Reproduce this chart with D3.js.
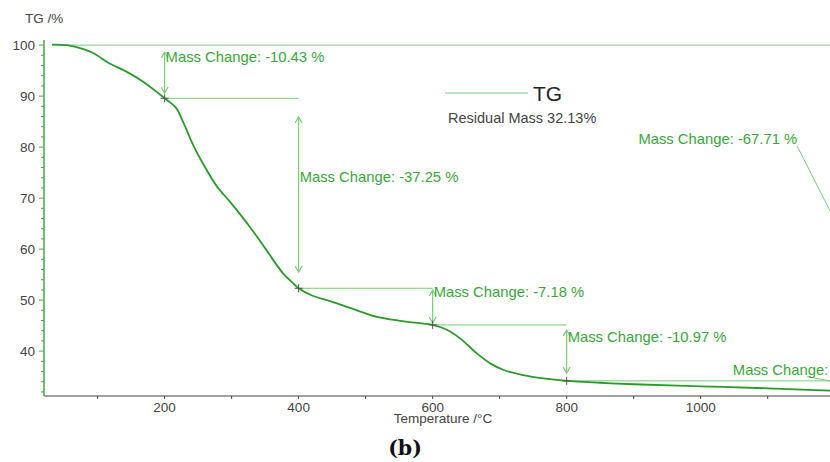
<!DOCTYPE html>
<html>
<head>
<meta charset="utf-8">
<script src="https://cdn.jsdelivr.net/npm/d3@7"></script>
<style>
  body { margin: 0; background: #fff; }
  svg { display: block; }
</style>
</head>
<body>
<svg id="drawing_region"></svg>
<script>
// TG curve (temperature in °C, mass in %)
const tempC = [32, 54, 79, 94, 118, 143, 168, 200, 217, 228, 243, 258, 278, 298, 327, 352,
               377, 392, 400, 420, 447, 487, 517, 551, 586, 600, 621, 641, 666, 686, 706,
               735, 765, 800, 850, 900, 1000, 1100, 1200];
const massPct = [100.1, 100.0, 99.2, 98.4, 96.4, 94.8, 92.8, 89.57, 87.7, 84.8, 80.3, 76.6,
                 72.3, 69.2, 64.4, 59.8, 55.2, 53.3, 52.32, 50.9, 49.8, 48.0, 46.7, 45.95,
                 45.4, 45.14, 44.2, 42.5, 39.55, 37.6, 36.3, 35.3, 34.65, 34.17, 33.8, 33.5,
                 33.1, 32.7, 32.2];

// mass loss steps
const stepTemp = [200, 400, 600, 800];
const stepTo = [89.57, 52.32, 45.14, 34.17];
const stepLabel = ["Mass Change: -10.43 %", "Mass Change: -37.25 %", "Mass Change: -7.18 %", "Mass Change: -10.97 %"];
const arrowTop = [98.6, 85.9, 51.96, 44.1];
const arrowBottom = [90.6, 55.5, 45.5, 35.7];
const labelMass = [96.67, 73.1, 50.6, 41.8];
const levelEnd = [400, 600, 800, 1230];

const xTicks = [200, 400, 600, 800, 1000];
const yTicks = [40, 50, 60, 70, 80, 90, 100];

class TGChart {

    constructor( config ) {
        this.config = config;
        this.init();
    }

    init() {
        let self = this;

        self.svg = d3.select( self.config.parent )
            .attr('width', self.config.width)
            .attr('height', self.config.height);

        self.xscale = d3.scaleLinear()
            .domain( [20, 1193] )
            .range( [44, 830] );

        self.yscale = d3.scaleLinear()
            .domain( [31.2, 101] )
            .range( [396, 40] );
    }

    render() {
        let self = this;
        const x = self.xscale, y = self.yscale;
        const green = '#2b9a2b', light = '#79cc79', textGreen = '#3aa63a';
        const font = 'Liberation Sans, Arial, sans-serif';

        // arrow heads
        const defs = self.svg.append('defs');
        defs.append('marker')
            .attr('id', 'head')
            .attr('viewBox', '-6 -4 7 8')
            .attr('markerWidth', 7).attr('markerHeight', 8)
            .attr('markerUnits', 'userSpaceOnUse')
            .attr('orient', 'auto-start-reverse')
            .append('path')
            .attr('d', 'M-6,-3.5 L0,0 L-6,3.5')
            .attr('fill', 'none')
            .attr('stroke', light)
            .attr('stroke-width', 1.2);

        // x axis
        const xaxis_group = self.svg.append('g')
            .attr('transform', `translate(0, ${y(31.2)})`);
        xaxis_group.append('line')
            .attr('x1', x(20)).attr('x2', 830)
            .attr('stroke', '#444');
        xaxis_group.selectAll('.minor')
            .data(d3.range(100, 1200, 100))
            .join('line')
            .attr('x1', d => x(d)).attr('x2', d => x(d))
            .attr('y1', 0).attr('y2', 3)
            .attr('stroke', '#444');
        xaxis_group.selectAll('.lab')
            .data(xTicks)
            .join('text')
            .attr('x', d => x(d))
            .attr('y', 15.5)
            .attr('text-anchor', 'middle')
            .attr('font-family', font)
            .attr('font-size', '13.5px')
            .attr('fill', '#444')
            .text(d => d);
        xaxis_group.append('text')
            .attr('x', 443).attr('y', 26.5)
            .attr('text-anchor', 'middle')
            .attr('font-family', font)
            .attr('font-size', '13.5px')
            .attr('fill', '#444')
            .text('Temperature /°C');

        // y axis
        const yaxis_group = self.svg.append('g')
            .attr('transform', `translate(${x(20)}, 0)`);
        yaxis_group.append('line')
            .attr('y1', y(31.2)).attr('y2', y(101))
            .attr('stroke', '#44aa44').attr('stroke-width', 1.5);
        yaxis_group.selectAll('.minor')
            .data(d3.range(32, 101, 2))
            .join('line')
            .attr('x1', d => d % 10 === 0 ? -5 : -3).attr('x2', 0)
            .attr('y1', d => y(d)).attr('y2', d => y(d))
            .attr('stroke', '#44aa44');
        yaxis_group.selectAll('.lab')
            .data(yTicks)
            .join('text')
            .attr('x', -9)
            .attr('y', d => y(d))
            .attr('dy', '0.36em')
            .attr('text-anchor', 'end')
            .attr('font-family', font)
            .attr('font-size', '13.5px')
            .attr('fill', '#444')
            .text(d => d);
        self.svg.append('text')
            .attr('x', 25).attr('y', 23)
            .attr('font-family', font)
            .attr('font-size', '13.5px')
            .attr('fill', '#444')
            .text('TG /%');

        // level lines
        const ann = self.svg.append('g');
        ann.append('line')
            .attr('x1', x(tempC[0])).attr('x2', x(1230))
            .attr('y1', y(100)).attr('y2', y(100))
            .attr('stroke', light);
        ann.selectAll('.level')
            .data(stepTemp)
            .join('line')
            .attr('x1', d => x(d))
            .attr('x2', (d, i) => x(levelEnd[i]))
            .attr('y1', (d, i) => y(stepTo[i]))
            .attr('y2', (d, i) => y(stepTo[i]))
            .attr('stroke', light);
        ann.selectAll('.arrow')
            .data(stepTemp)
            .join('line')
            .attr('x1', d => x(d)).attr('x2', d => x(d))
            .attr('y1', (d, i) => y(arrowTop[i]))
            .attr('y2', (d, i) => y(arrowBottom[i]))
            .attr('stroke', light)
            .attr('stroke-width', 1.2)
            .attr('marker-start', 'url(#head)')
            .attr('marker-end', 'url(#head)');
        ann.selectAll('.lab')
            .data(stepTemp)
            .join('text')
            .attr('x', d => x(d) + 1)
            .attr('y', (d, i) => y(labelMass[i]))
            .attr('font-family', font)
            .attr('font-size', '14.8px')
            .attr('fill', textGreen)
            .text((d, i) => stepLabel[i]);

        // overall step and the cut-off last step
        ann.append('line')
            .attr('x1', x(1144)).attr('y1', y(80.2))
            .attr('x2', x(1222)).attr('y2', y(60))
            .attr('stroke', light);
        ann.append('text')
            .attr('x', x(1144)).attr('y', y(80.6))
            .attr('text-anchor', 'end')
            .attr('font-family', font)
            .attr('font-size', '14.8px')
            .attr('fill', textGreen)
            .text('Mass Change: -67.71 %');
        ann.append('line')
            .attr('x1', x(1159)).attr('y1', y(35.0))
            .attr('x2', x(1222)).attr('y2', y(33.4))
            .attr('stroke', light);
        ann.append('text')
            .attr('x', x(1048)).attr('y', y(35.3))
            .attr('font-family', font)
            .attr('font-size', '14.8px')
            .attr('fill', textGreen)
            .text('Mass Change:');

        // TG curve
        const line = d3.line()
            .x((d, i) => x(tempC[i]))
            .y(d => y(d))
            .curve(d3.curveCatmullRom.alpha(0.5));
        self.svg.append('path')
            .attr('d', line(massPct))
            .attr('fill', 'none')
            .attr('stroke', green)
            .attr('stroke-width', 1.8);

        // step markers
        self.svg.selectAll('.cross')
            .data(stepTemp)
            .join('path')
            .attr('d', (d, i) => {
                const cx = x(d), cy = y(stepTo[i]);
                return `M${cx - 4},${cy} H${cx + 4} M${cx},${cy - 4} V${cy + 4}`;
            })
            .attr('stroke', '#555')
            .attr('stroke-width', 1);

        // legend
        self.svg.append('line')
            .attr('x1', 445).attr('x2', 528)
            .attr('y1', 93).attr('y2', 93)
            .attr('stroke', light).attr('stroke-width', 1.2);
        self.svg.append('text')
            .attr('x', 533).attr('y', 100.5)
            .attr('font-family', font)
            .attr('font-size', '21px')
            .attr('fill', '#222')
            .text('TG');
        self.svg.append('text')
            .attr('x', 448).attr('y', 123)
            .attr('font-family', font)
            .attr('font-size', '14.5px')
            .attr('fill', '#444')
            .text('Residual Mass 32.13%');

        // panel letter
        self.svg.append('text')
            .attr('x', 405).attr('y', 455)
            .attr('text-anchor', 'middle')
            .attr('font-family', 'DejaVu Serif')
            .attr('font-weight', 'bold')
            .attr('font-size', '20.5px')
            .attr('fill', '#111')
            .text('(b)');
    }
}

const chart = new TGChart({ parent: '#drawing_region', width: 830, height: 462 });
chart.render();
</script>
</body>
</html>
